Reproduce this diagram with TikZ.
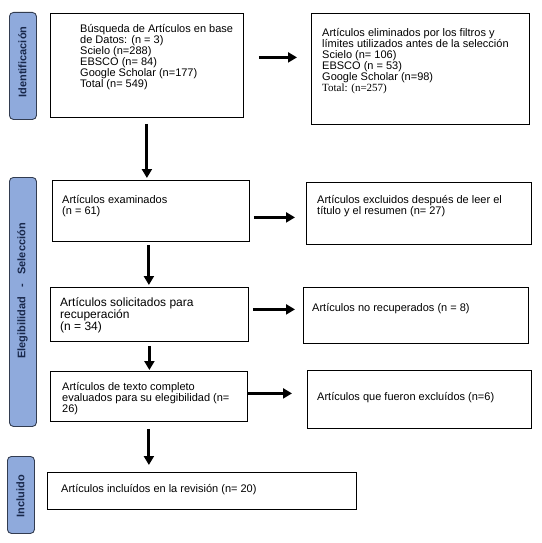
\documentclass[tikz,border=0pt]{standalone}
\usepackage{fontspec}
\setmainfont{Liberation Sans}
\newfontfamily\tnr{Liberation Serif}
\usetikzlibrary{arrows.meta}
\definecolor{sidefill}{RGB}{143,170,220}
\definecolor{sideline}{RGB}{50,60,80}
\definecolor{sidetext}{RGB}{25,40,75}
\tikzset{
  box/.style={draw=black, line width=0.8pt, anchor=north west, inner sep=0pt, fill=white},
  side/.style={draw=sideline, fill=sidefill, line width=0.9pt, rounded corners=4pt, anchor=north west, inner sep=0pt},
  sidelabel/.style={rotate=90, text=sidetext, font=\fontsize{11}{12}\selectfont\bfseries, inner sep=0pt},
  txt/.style={anchor=north west, inner sep=0pt, align=left, font=\fontsize{11}{11}\selectfont},
  arr/.style={line width=3pt, -{Triangle[length=9pt,width=10pt]}}
}
\begin{document}
\begin{tikzpicture}[x=1pt,y=-1pt]
\useasboundingbox (0,0) rectangle (541,543);
% side boxes
\node[side, minimum width=27pt, minimum height=107pt] (s1) at (9,12) {};
\node[side, minimum width=27pt, minimum height=249pt] (s2) at (9,177) {};
\node[side, minimum width=27pt, minimum height=77pt] (s3) at (7,456) {};
\node[sidelabel] (s1t) at (22.5,62) {Identificación};
\node[sidelabel] (s2t) at (22.5,291) {Elegibilidad\hspace{0.85em}-\hspace{0.85em}Selección};
\node[sidelabel] (s3t) at (20.5,496) {Incluido};
% main boxes
\node[box, minimum width=193pt, minimum height=104pt] (b1) at (50,13) {};
\node[box, minimum width=218pt, minimum height=111pt] (b2) at (311,13) {};
\node[box, minimum width=197pt, minimum height=61pt] (b3) at (52,180) {};
\node[box, minimum width=198pt, minimum height=54pt] (b4) at (50,287) {};
\node[box, minimum width=225pt, minimum height=62pt] (b5) at (306,182) {};
\node[box, minimum width=225pt, minimum height=56pt] (b6) at (303,287) {};
\node[box, minimum width=197pt, minimum height=50pt] (b7) at (50,371) {};
\node[box, minimum width=224pt, minimum height=58pt] (b8) at (307,370) {};
\node[box, minimum width=309pt, minimum height=37pt] (b9) at (47,472) {};
% texts
\node[txt] (b1t) at (80,24.5) {Búsqueda de Artículos en base\\de Datos: (n = 3)\\Scielo (n=288)\\EBSCO (n= 84)\\Google Scholar (n=177)\\Total (n= 549)};
\node[txt] (b2t) at (322,28.5) {Artículos eliminados por los filtros y\\límites utilizados antes de la selección\\Scielo (n= 106)\\EBSCO (n = 53)\\Google Scholar (n=98)\\{\tnr Total: (n=257)}};
\node[txt] (b3t) at (62,195.5) {Artículos examinados\\(n = 61)};
\node[txt, font=\fontsize{12}{12}\selectfont] (b4t) at (60,297) {Artículos solicitados para\\recuperación\\(n = 34)};
\node[txt] (b5t) at (317,195.5) {Artículos excluidos después de leer el\\título y el resumen (n= 27)};
\node[txt] (b6t) at (312,303.5) {Artículos no recuperados (n = 8)};
\node[txt] (b7t) at (62,382.5) {Artículos de texto completo\\evaluados para su elegibilidad (n=\\26)};
\node[txt] (b8t) at (317,392.5) {Artículos que fueron excluídos (n=6)};
\node[txt] (b9t) at (61,484.5) {Artículos incluídos en la revisión (n= 20)};
% connectors
\draw[arr, shorten <=15pt, shorten >=14pt] ([yshift=8pt]b1.east) -- ([yshift=8pt]b1.east -| b2.west);
\draw[arr, shorten <=6pt, shorten >=2pt] (b1.south) -- (b1.south |- b3.north);
\draw[arr, shorten <=4pt, shorten >=11pt] ([yshift=-6.5pt]b3.east) -- ([yshift=-6.5pt]b3.east -| b5.west);
\draw[arr, shorten <=3pt, shorten >=2pt] ([xshift=-2pt]b3.south) -- ([xshift=-2pt]b3.south |- b4.north);
\draw[arr, shorten <=4pt, shorten >=8pt] ([yshift=5pt]b4.east) -- ([yshift=5pt]b4.east -| b6.west);
\draw[arr, shorten <=4pt, shorten >=1pt] (b4.south) -- (b4.south |- b7.north);
\draw[arr, shorten <=0pt, shorten >=15pt] ([yshift=3pt]b7.east) -- ([yshift=3pt]b7.east -| b8.west);
\draw[arr, shorten <=7pt, shorten >=7pt] (b7.south) -- (b7.south |- b9.north);
\end{tikzpicture}
\end{document}
